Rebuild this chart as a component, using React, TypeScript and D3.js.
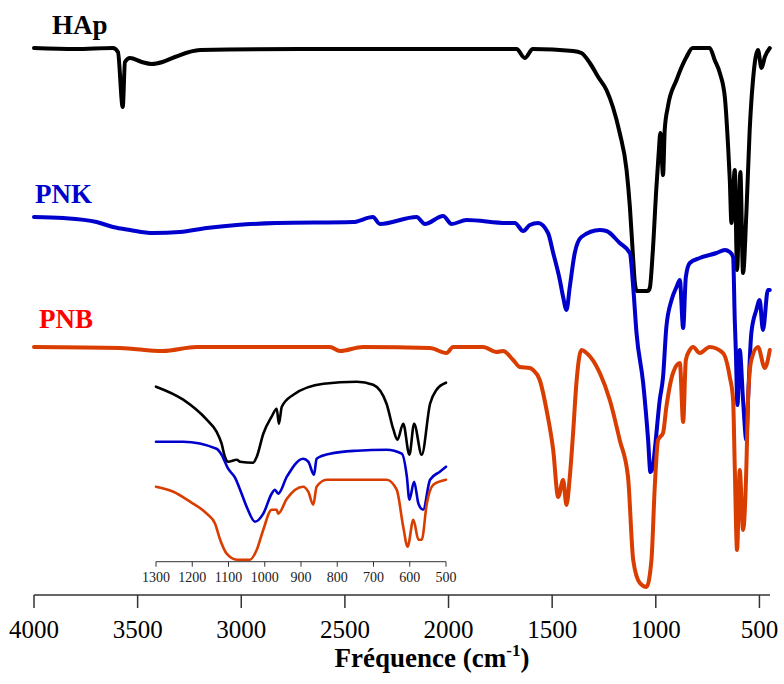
import React from "react";
import * as d3 from "d3";

// ---- Main spectra (wavenumber cm-1, relative transmittance a.u.) ----
const hapWn = [4000, 3800, 3619, 3595, 3572, 3561, 3537, 3480, 3432, 3380, 3320, 3199, 2717, 1672, 1632, 1593, 1399, 1359, 1318, 1278, 1238, 1207, 1174, 1141, 1125, 1111, 1101, 1092, 1039, 1029, 1015, 997, 986, 978, 965, 957, 942, 900, 852, 822, 740, 716, 691, 667, 651, 643, 635, 619, 608, 592, 579, 563, 547, 531, 507, 490, 474, 450];
const hapT = [547, 546, 547, 543, 488, 533, 537, 533, 531, 533, 538, 545, 546, 546, 537, 546, 544, 542, 532, 518, 505, 488, 462, 425, 388, 342, 312, 304, 304, 307, 342, 408, 442, 462, 420, 465, 488, 515, 538, 547, 547, 535, 522, 498, 448, 415, 372, 425, 325, 423, 322, 382, 465, 515, 545, 527, 538, 547];

const pnkWn = [4000, 3859, 3698, 3619, 3537, 3426, 3296, 3167, 3022, 2829, 2461, 2365, 2331, 2154, 2114, 2026, 1985, 1913, 1720, 1680, 1640, 1608, 1568, 1520, 1495, 1463, 1447, 1431, 1415, 1391, 1359, 1270, 1238, 1174, 1125, 1109, 1093, 1061, 1037, 1026, 1015, 1005, 981, 965, 949, 924, 900, 884, 868, 855, 836, 788, 707, 667, 643, 627, 619, 614, 606, 595, 579, 563, 555, 539, 515, 499, 483, 459, 450];
const pnkT = [378, 377, 373, 368, 365, 362, 363, 367, 370, 372, 373, 378, 371, 378, 371, 379, 371, 375, 372, 372, 364, 370, 372, 362, 342, 315, 298, 285, 308, 342, 358, 365, 364, 352, 342, 308, 262, 212, 155, 123, 127, 145, 195, 218, 268, 295, 308, 315, 267, 318, 332, 337, 342, 345, 343, 338, 275, 245, 190, 245, 195, 155, 195, 262, 285, 295, 265, 305, 305];

const pnbWn = [4000, 3585, 3378, 3215, 2572, 2524, 2413, 2090, 2010, 1978, 1833, 1768, 1737, 1688, 1656, 1608, 1592, 1560, 1527, 1495, 1471, 1447, 1431, 1415, 1399, 1383, 1359, 1334, 1270, 1222, 1174, 1134, 1109, 1077, 1045, 1021, 1005, 989, 965, 949, 917, 884, 868, 855, 836, 820, 788, 740, 676, 643, 627, 619, 608, 595, 579, 563, 555, 539, 507, 474, 450];
const pnbT = [248, 247, 244, 248, 248, 244, 248, 247, 242, 248, 248, 243, 244, 235, 228, 227, 225, 215, 185, 145, 98, 115, 90, 118, 162, 212, 245, 242, 222, 195, 155, 118, 35, 12, 8, 35, 108, 155, 162, 188, 222, 232, 173, 235, 245, 248, 242, 248, 242, 218, 195, 128, 45, 125, 65, 128, 195, 235, 248, 227, 245];

// ---- Inset spectra (1300-500 cm-1) ----
const insHapWn = [1300, 1225, 1160, 1133, 1119, 1110, 1101, 1077, 1068, 1032, 1022, 1004, 981, 967, 961, 953, 921, 838, 746, 701, 664, 645, 634, 618, 601, 588, 567, 544, 526, 500];
const insHapT = [175, 162, 142, 130, 118, 105, 100, 102, 100, 99, 105, 128, 145, 153, 138, 155, 167, 178, 180, 177, 158, 132, 122, 138, 107, 138, 107, 158, 172, 179];

const insPnkWn = [1300, 1225, 1133, 1119, 1101, 1082, 1068, 1050, 1027, 1004, 981, 972, 963, 939, 894, 880, 864, 857, 820, 746, 664, 622, 608, 601, 588, 576, 563, 544, 517, 500];
const insPnkT = [120, 120, 113, 107, 93, 84, 72, 55, 40, 48, 68, 72, 68, 85, 103, 100, 87, 103, 108, 111, 112, 108, 85, 62, 80, 58, 52, 82, 90, 95];

const insPnbWn = [1300, 1252, 1206, 1160, 1137, 1123, 1105, 1077, 1041, 1022, 1004, 981, 967, 963, 939, 894, 880, 866, 857, 829, 746, 664, 636, 618, 606, 590, 576, 567, 553, 535, 500];
const insPnbT = [75, 70, 60, 48, 38, 22, 8, 2, 2, 12, 32, 52, 52, 48, 63, 75, 70, 57, 75, 82, 82, 82, 72, 35, 15, 42, 22, 22, 58, 77, 82];

const mainTicks = [4000, 3500, 3000, 2500, 2000, 1500, 1000, 500];
const insetTicks = [1300, 1200, 1100, 1000, 900, 800, 700, 600, 500];

const seriesNames = ["HAp", "PNK", "PNB"];
const lineColors = ["#000000", "#0000CC", "#D93D00"];
const labelColors = ["#000000", "#0000CC", "#FF0000"];

type Pt = [number, number];
const zip = (a: number[], b: number[]): Pt[] => a.map((v, i) => [v, b[i]]);

export default function App() {
  const x = d3.scaleLinear().domain([4000, 449]).range([34, 770]);
  const y = d3.scaleLinear().domain([0, 560]).range([595, 35]);
  const xi = d3.scaleLinear().domain([1300, 500]).range([156, 446]);
  const yi = d3.scaleLinear().domain([0, 190]).range([561.7, 371.7]);

  const mainLine = d3
    .line<Pt>()
    .x((d) => x(d[0]))
    .y((d) => y(d[1]))
    .curve(d3.curveMonotoneX);
  const insetLine = d3
    .line<Pt>()
    .x((d) => xi(d[0]))
    .y((d) => yi(d[1]))
    .curve(d3.curveMonotoneX);

  const mainSeries = [zip(hapWn, hapT), zip(pnkWn, pnkT), zip(pnbWn, pnbT)];
  const insetSeries = [zip(insHapWn, insHapT), zip(insPnkWn, insPnkT), zip(insPnbWn, insPnbT)];

  const labelPos = [
    { x: 52, y: 34 },
    { x: 35, y: 203 },
    { x: 39, y: 328 },
  ];

  const serif = "'Liberation Serif', 'Times New Roman', serif";

  return (
    <svg
      width={784}
      height={684}
      style={{ position: "absolute", left: 0, top: 0, background: "#fff" }}
      fontFamily={serif}
    >
      <rect width={784} height={684} fill="#fff" />
      {/* main spectra */}
      {mainSeries.map((s, i) => (
        <path
          key={"m" + i}
          d={mainLine(s) || ""}
          fill="none"
          stroke={lineColors[i]}
          strokeWidth={4}
          strokeLinejoin="round"
          strokeLinecap="round"
        />
      ))}
      {/* labels */}
      {seriesNames.map((n, i) => (
        <text
          key={"l" + i}
          x={labelPos[i].x}
          y={labelPos[i].y}
          fontSize={27}
          fontWeight="bold"
          fill={labelColors[i]}
        >
          {n}
        </text>
      ))}
      {/* main axis */}
      <line x1={x(4000)} x2={x(449)} y1={595} y2={595} stroke="#333" strokeWidth={1.5} />
      {mainTicks.map((t) => (
        <g key={"t" + t} transform={`translate(${x(t)},595)`}>
          <line y1={0} y2={13} stroke="#333" strokeWidth={1.5} />
          <text y={43} textAnchor="middle" fontSize={25} fill="#000">
            {t}
          </text>
        </g>
      ))}
      <text x={432} y={667} textAnchor="middle" fontSize={27} fontWeight="bold" fill="#000">
        Fréquence (cm
        <tspan dy={-11} fontSize={17}>-1</tspan>
        <tspan dy={11}>)</tspan>
      </text>

      {/* inset spectra */}
      {insetSeries.map((s, i) => (
        <path
          key={"i" + i}
          d={insetLine(s) || ""}
          fill="none"
          stroke={lineColors[i]}
          strokeWidth={2.6}
          strokeLinejoin="round"
          strokeLinecap="round"
        />
      ))}
      <line x1={xi(1300)} x2={xi(500)} y1={561.7} y2={561.7} stroke="#333" strokeWidth={1} />
      {insetTicks.map((t) => (
        <g key={"it" + t} transform={`translate(${xi(t)},561.7)`}>
          <line y1={0} y2={5} stroke="#333" strokeWidth={1} />
          <text y={20} textAnchor="middle" fontSize={14} fill="#222">
            {t}
          </text>
        </g>
      ))}
    </svg>
  );
}
